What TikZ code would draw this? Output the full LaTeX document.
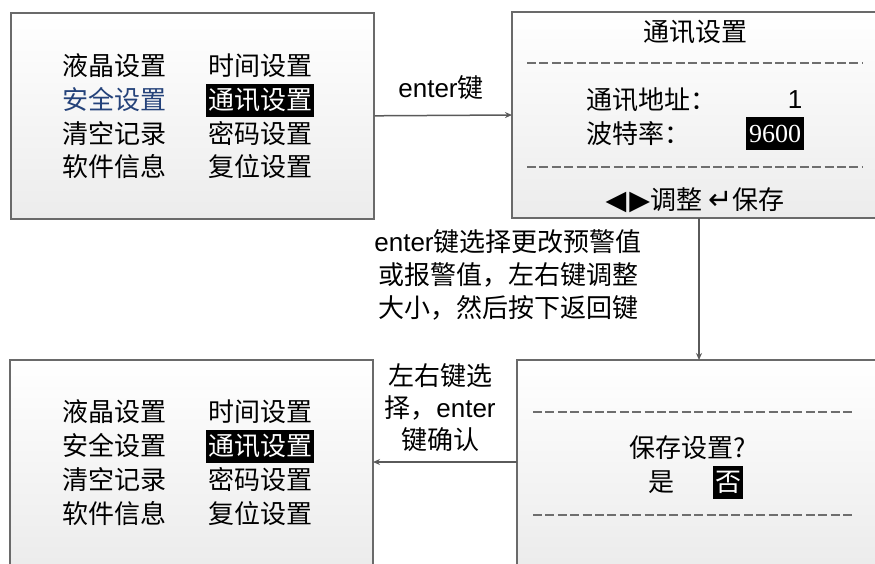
\documentclass[tikz,border=0pt]{standalone}
\usepackage{fontspec}
\setmainfont{Noto Sans CJK SC}
\newfontfamily\arialf{Liberation Sans}
\newfontfamily\timesf{Liberation Serif}
\newfontfamily\symf{DejaVu Sans}
\usetikzlibrary{arrows.meta}
\definecolor{frame}{HTML}{6A6A6A}
\definecolor{conn}{HTML}{5A5A5A}
\definecolor{dashc}{HTML}{6E6E6E}
\definecolor{menublue}{HTML}{24427A}
\begin{document}
\begin{tikzpicture}[x=1pt,y=-1pt,
  every node/.style={inner sep=0pt},
  txt/.style={font=\fontsize{26}{26}\selectfont},
  lbl/.style={font=\fontsize{26}{33}\selectfont, align=center},
  screenfill/.style={top color=white, bottom color=gray!15},
  screenedge/.style={draw=frame, line width=1.6pt},
  hl/.style={txt, fill=black, text=white, inner xsep=2pt, minimum height=33pt},
  sep/.style={draw=dashc, line width=2.4pt, dash pattern=on 9pt off 3.4pt},
  conn/.style={draw=conn, line width=1.5pt, -{Stealth[length=7pt,width=6pt]}}]
\useasboundingbox (0,0) rectangle (875,563);

% screen 1
\node[screenedge, screenfill, anchor=north west, minimum width=363pt, minimum height=206pt] (s1) at (10,12) {};
\node[txt] (a1) at (114,66) {液晶设置};
\node[txt, text=menublue] (a2) at (114,100) {安全设置};
\node[txt] (a3) at (114,134) {清空记录};
\node[txt] (a4) at (114,167) {软件信息};
\node[txt] (b1) at (260,66) {时间设置};
\node[hl] (b2) at (260,100) {通讯设置};
\node[txt] (b3) at (260,134) {密码设置};
\node[txt] (b4) at (260,167) {复位设置};

% screen 2
\fill[screenfill] (512,12) rectangle (876,218);
\draw[screenedge] (876,12) -- (512,12) -- (512,218) -- (876,218);
\coordinate (s2w) at (512,115);
\coordinate (s2b) at (699,218);
\node[txt] (t2) at (695,32) {通讯设置};
\coordinate (d1a) at (527,63); \coordinate (d1b) at (863,63);
\coordinate (d2a) at (527,167); \coordinate (d2b) at (863,167);
\draw[sep] (d1a) -- (d1b);
\draw[sep] (d2a) -- (d2b);
\node[txt, anchor=west] (addr) at (586,100) {通讯地址：};
\node[txt] (addrv) at (795,100) {\arialf 1};
\node[hl, inner xsep=3pt] (baudv) at (775,133.5) {\timesf 9600};
\node[txt, anchor=west] (baud) at (586,134) {波特率：};
\node[txt] (keys) at (695,200) {{\symf\fontsize{27}{27}\selectfont ◀\kern3pt▶}调整 {\symf\fontsize{29}{29}\selectfont ↵}保存};

% screen 4 (save)
\fill[screenfill] (517,360) rectangle (876,564);
\draw[screenedge] (876,360) -- (517,360) -- (517,564);
\coordinate (s4t) at (699,360);
\coordinate (s4w) at (517,462);
\coordinate (d3a) at (533,412); \coordinate (d3b) at (854,412);
\coordinate (d4a) at (533,515); \coordinate (d4b) at (854,515);
\draw[sep] (d3a) -- (d3b);
\draw[sep] (d4a) -- (d4b);
\node[txt] (q) at (688,448) {保存设置?};
\node[txt] (yes) at (661,482) {是};
\node[hl] (no) at (728,482) {否};

% screen 3
\fill[screenfill] (10,360) rectangle (373,564);
\draw[screenedge] (10,564) -- (10,360) -- (373,360) -- (373,564);
\coordinate (s3e) at (373,462);
\node[txt] (c1) at (114,412) {液晶设置};
\node[txt] (c2) at (114,446) {安全设置};
\node[txt] (c3) at (114,480) {清空记录};
\node[txt] (c4) at (114,514) {软件信息};
\node[txt] (e1) at (260,412) {时间设置};
\node[hl] (e2) at (260,446) {通讯设置};
\node[txt] (e3) at (260,480) {密码设置};
\node[txt] (e4) at (260,514) {复位设置};

% connectors
\draw[conn] (s1.east) -- (s2w);
\draw[conn] (s2b) -- (s4t);
\draw[conn] (s4w) -- (s3e);

% labels
\node[lbl] (l1) at (441,88) {{\arialf enter}键};
\node[lbl] (l2) at (508,275) {{\arialf enter}键选择更改预警值\\或报警值，左右键调整\\大小，然后按下返回键};
\node[lbl, font=\fontsize{26}{32}\selectfont] (l3) at (440,408) {左右键选\\择，{\arialf enter}\\键确认};
\end{tikzpicture}
\end{document}
